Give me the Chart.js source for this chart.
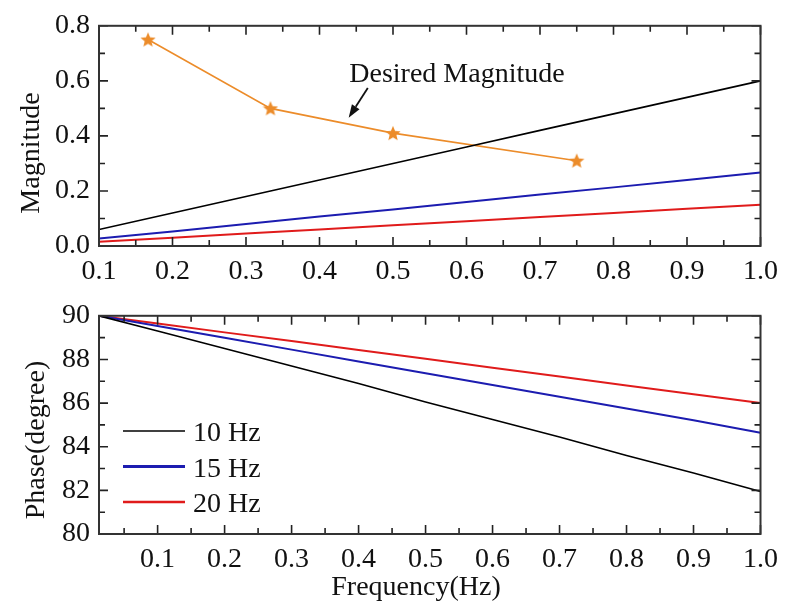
<!DOCTYPE html>
<html>
<head>
<meta charset="utf-8">
<script src="https://cdn.jsdelivr.net/npm/chart.js@4.4.1/dist/chart.umd.min.js"></script>
<style>
  html, body { margin: 0; padding: 0; background: #fff; }
  canvas { position: absolute; left: 0; }
  #magChart { top: 0; }
  #phaseChart { top: 290px; }
</style>
</head>
<body>
<canvas id="magChart" width="787" height="290"></canvas>
<canvas id="phaseChart" width="787" height="313"></canvas>
<script>
// data
const magFreq = [0.1, 0.2, 0.3, 0.4, 0.5, 0.6, 0.7, 0.8, 0.9, 1.0];
const mag10 = [0.06, 0.12, 0.18, 0.24, 0.30, 0.36, 0.42, 0.48, 0.54, 0.60];
const mag15 = [0.027, 0.053, 0.08, 0.107, 0.133, 0.16, 0.187, 0.213, 0.24, 0.267];
const mag20 = [0.015, 0.03, 0.045, 0.06, 0.075, 0.09, 0.105, 0.12, 0.135, 0.15];
const desiredFreq = [0.1667, 0.3333, 0.5, 0.75];
const desiredMag = [0.75, 0.50, 0.41, 0.31];

const phaseFreq = [0.0125, 0.1, 0.2, 0.3, 0.4, 0.5, 0.6, 0.7, 0.8, 0.9, 1.0];
const phase10 = [90.0, 89.3, 88.5, 87.7, 86.9, 86.05, 85.25, 84.45, 83.6, 82.8, 81.95];
const phase15 = [90.0, 89.53, 88.99, 88.45, 87.91, 87.37, 86.83, 86.29, 85.75, 85.21, 84.64];
const phase20 = [90.0, 89.65, 89.24, 88.84, 88.43, 88.03, 87.62, 87.22, 86.81, 86.41, 86.0];

const seriesNames = ["10 Hz", "15 Hz", "20 Hz"];
const seriesColors = ["#000000", "#1c1cb0", "#e01b1b"];
const desiredColor = "#ec8c2a";

const magXTicks = [0.1, 0.2, 0.3, 0.4, 0.5, 0.6, 0.7, 0.8, 0.9, 1.0];
const magYTicks = [0.0, 0.2, 0.4, 0.6, 0.8];
const phaseXTicks = [0.1, 0.2, 0.3, 0.4, 0.5, 0.6, 0.7, 0.8, 0.9, 1.0];
const phaseYTicks = [80, 82, 84, 86, 88, 90];

const FONT = "'Liberation Serif', 'Times New Roman', serif";

function pts(xs, ys) {
  return xs.map((x, i) => ({ x: x, y: ys[i] }));
}

function starImage(size, color) {
  const c = document.createElement("canvas");
  c.width = c.height = size;
  const g = c.getContext("2d");
  g.fillStyle = color;
  g.beginPath();
  for (let i = 0; i < 10; i++) {
    const r = i % 2 ? size * 0.22 : size * 0.5;
    const a = -Math.PI / 2 + (i * Math.PI) / 5;
    g.lineTo(size / 2 + r * Math.cos(a), size / 2 + r * Math.sin(a) + size * 0.04);
  }
  g.closePath();
  g.fill();
  return c;
}

function minorValues(ticks, min, max) {
  const step = ticks[1] - ticks[0];
  const out = [];
  for (let v = ticks[0] - step / 2; v <= max + 1e-9; v += step) {
    if (v >= min - 1e-9) out.push(v);
  }
  return out;
}

// box frame with inward ticks on all four sides
const framePlugin = {
  id: "frame",
  afterDatasetsDraw(chart) {
    const { ctx, chartArea: a, scales } = chart;
    const xs = scales.x, ys = scales.y;
    const xMajor = xs.ticks.map((t) => t.value);
    const yMajor = ys.ticks.map((t) => t.value);
    const xMinor = minorValues(xMajor, xs.min, xs.max);
    const yMinor = minorValues(yMajor, ys.min, ys.max);
    ctx.save();
    ctx.strokeStyle = "#222";
    ctx.lineWidth = 1.6;
    const xt = (v, len) => {
      const p = xs.getPixelForValue(v);
      ctx.beginPath();
      ctx.moveTo(p, a.bottom); ctx.lineTo(p, a.bottom - len);
      ctx.moveTo(p, a.top); ctx.lineTo(p, a.top + len);
      ctx.stroke();
    };
    const yt = (v, len) => {
      const p = ys.getPixelForValue(v);
      ctx.beginPath();
      ctx.moveTo(a.left, p); ctx.lineTo(a.left + len, p);
      ctx.moveTo(a.right, p); ctx.lineTo(a.right - len, p);
      ctx.stroke();
    };
    xMajor.forEach((v) => xt(v, 9));
    xMinor.forEach((v) => xt(v, 6));
    yMajor.forEach((v) => yt(v, 9));
    yMinor.forEach((v) => yt(v, 6));
    ctx.strokeStyle = "#333";
    ctx.lineWidth = 2;
    ctx.strokeRect(a.left, a.top, a.right - a.left, a.bottom - a.top);
    ctx.restore();
  },
};

// axis titles drawn at the spots used in the figure
const titlePlugin = {
  id: "titles",
  afterDraw(chart, args, opts) {
    const ctx = chart.ctx;
    ctx.save();
    ctx.fillStyle = "#111";
    ctx.font = "28px " + FONT;
    ctx.textBaseline = "alphabetic";
    ctx.textAlign = "center";
    if (opts.y) {
      ctx.save();
      ctx.translate(opts.y.x, opts.y.y);
      ctx.rotate(-Math.PI / 2);
      ctx.fillText(opts.y.text, 0, 0);
      ctx.restore();
    }
    if (opts.x) {
      ctx.fillText(opts.x.text, opts.x.x, opts.x.y);
    }
    ctx.restore();
  },
};

// "Desired Magnitude" note with arrow, placed in data units
const notePlugin = {
  id: "note",
  afterDatasetsDraw(chart, args, opts) {
    if (!opts.text) return;
    const { ctx, scales: { x, y } } = chart;
    ctx.save();
    ctx.fillStyle = "#111";
    ctx.font = "28px " + FONT;
    ctx.textBaseline = "alphabetic";
    ctx.fillText(opts.text, x.getPixelForValue(opts.at[0]), y.getPixelForValue(opts.at[1]));
    const x0 = x.getPixelForValue(opts.from[0]), y0 = y.getPixelForValue(opts.from[1]);
    const x1 = x.getPixelForValue(opts.to[0]), y1 = y.getPixelForValue(opts.to[1]);
    const ang = Math.atan2(y1 - y0, x1 - x0);
    const hl = 13, hw = 4.5;
    const bx = x1 - hl * Math.cos(ang), by = y1 - hl * Math.sin(ang);
    ctx.strokeStyle = "#111";
    ctx.lineWidth = 1.8;
    ctx.beginPath();
    ctx.moveTo(x0, y0);
    ctx.lineTo(bx, by);
    ctx.stroke();
    ctx.beginPath();
    ctx.moveTo(x1, y1);
    ctx.lineTo(bx + hw * Math.sin(ang), by - hw * Math.cos(ang));
    ctx.lineTo(bx - hw * Math.sin(ang), by + hw * Math.cos(ang));
    ctx.closePath();
    ctx.fill();
    ctx.restore();
  },
};

// legend inside the phase plot
const legendPlugin = {
  id: "boxLegend",
  afterDatasetsDraw(chart, args, opts) {
    if (!opts.items) return;
    const ctx = chart.ctx;
    ctx.save();
    ctx.font = "28px " + FONT;
    ctx.textBaseline = "middle";
    ctx.fillStyle = "#111";
    opts.items.forEach((it, i) => {
      const yy = opts.y + i * opts.gap;
      ctx.strokeStyle = it.color;
      ctx.lineWidth = it.width;
      ctx.beginPath();
      ctx.moveTo(opts.x, yy);
      ctx.lineTo(opts.x + 62, yy);
      ctx.stroke();
      ctx.fillText(it.label, opts.x + 70, yy + 3);
    });
    ctx.restore();
  },
};

function lineSet(label, xs, ys, color, width) {
  return {
    label: label,
    data: pts(xs, ys),
    borderColor: color,
    backgroundColor: color,
    borderWidth: width,
    pointRadius: 0,
    tension: 0,
  };
}

function axes(xMin, xMax, xTicks, yMin, yMax, yTicks, xFmt, yFmt, xHeight) {
  const tickFont = { family: FONT, size: 28 };
  return {
    x: {
      type: "linear",
      min: xMin,
      max: xMax,
      afterBuildTicks: (s) => { s.ticks = xTicks.map((v) => ({ value: v })); },
      afterFit: (s) => { s.height = xHeight; },
      grid: { display: false, drawTicks: false },
      border: { display: false },
      ticks: { font: tickFont, color: "#111", padding: 9, autoSkip: false, maxRotation: 0, callback: xFmt },
    },
    y: {
      type: "linear",
      min: yMin,
      max: yMax,
      afterBuildTicks: (s) => { s.ticks = yTicks.map((v) => ({ value: v })); },
      afterFit: (s) => { s.width = 99; },
      grid: { display: false, drawTicks: false },
      border: { display: false },
      ticks: { font: tickFont, color: "#111", padding: 9, autoSkip: false, callback: yFmt },
    },
  };
}

const star = starImage(16, desiredColor);

new Chart(document.getElementById("magChart"), {
  type: "line",
  data: {
    datasets: [
      lineSet(seriesNames[0], magFreq, mag10, seriesColors[0], 1.6),
      lineSet(seriesNames[1], magFreq, mag15, seriesColors[1], 2),
      lineSet(seriesNames[2], magFreq, mag20, seriesColors[2], 2),
      {
        label: "Desired Magnitude",
        data: pts(desiredFreq, desiredMag),
        borderColor: desiredColor,
        backgroundColor: desiredColor,
        borderWidth: 1.6,
        pointStyle: star,
        pointRadius: 8,
        tension: 0,
      },
    ],
  },
  options: {
    responsive: false,
    animation: false,
    layout: { padding: { left: 0, top: 23, right: 21, bottom: 0 } },
    scales: axes(0.1, 1.0, magXTicks, 0, 0.8, magYTicks,
      (v) => v.toFixed(1), (v) => v.toFixed(1), 44),
    plugins: {
      legend: { display: false },
      tooltip: { enabled: false },
      titles: { y: { text: "Magnitude", x: 39, y: 153 } },
      note: { text: "Desired Magnitude", at: [0.4405, 0.5955], from: [0.4657, 0.574], to: [0.4397, 0.466] },
    },
  },
  plugins: [framePlugin, titlePlugin, notePlugin],
});

new Chart(document.getElementById("phaseChart"), {
  type: "line",
  data: {
    datasets: [
      lineSet(seriesNames[0], phaseFreq, phase10, seriesColors[0], 1.6),
      lineSet(seriesNames[1], phaseFreq, phase15, seriesColors[1], 2),
      lineSet(seriesNames[2], phaseFreq, phase20, seriesColors[2], 2),
    ],
  },
  options: {
    responsive: false,
    animation: false,
    layout: { padding: { left: 0, top: 22, right: 21, bottom: 0 } },
    scales: axes(0.0125, 1.0, phaseXTicks, 80, 90, phaseYTicks,
      (v) => v.toFixed(1), (v) => String(v), 69),
    plugins: {
      legend: { display: false },
      tooltip: { enabled: false },
      titles: {
        y: { text: "Phase(degree)", x: 44, y: 150 },
        x: { text: "Frequency(Hz)", x: 416, y: 305 },
      },
      boxLegend: {
        x: 123, y: 141, gap: 35.5,
        items: seriesNames.map((n, i) => ({ label: n, color: seriesColors[i], width: [1.5, 3, 2.5][i] })),
      },
    },
  },
  plugins: [framePlugin, titlePlugin, legendPlugin],
});
</script>
</body>
</html>
